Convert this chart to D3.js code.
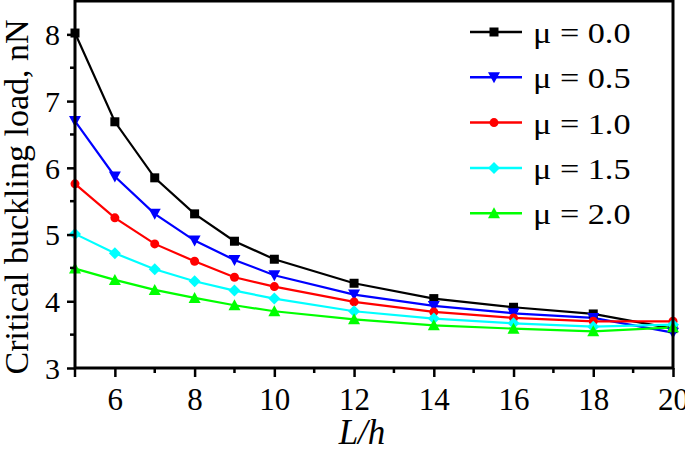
<!DOCTYPE html>
<html>
<head>
<meta charset="utf-8">
<script src="https://cdn.jsdelivr.net/npm/d3@7"></script>
<style>
    body { margin: 0; background: #fff; }
</style>
</head>
<body>
<div id="graph"></div>
<script>
// L/h values
var ratios = [5, 6, 7, 8, 9, 10, 12, 14, 16, 18, 20];
var xTicks = [6, 8, 10, 12, 14, 16, 18, 20];
var yTicks = [3, 4, 5, 6, 7, 8];
var seriesNames = ['μ = 0.0', 'μ = 0.5', 'μ = 1.0', 'μ = 1.5', 'μ = 2.0'];
var mu00 = [8.02, 6.69, 5.85, 5.31, 4.90, 4.63, 4.27, 4.04, 3.91, 3.81, 3.59];
var mu05 = [6.70, 5.87, 5.31, 4.91, 4.62, 4.39, 4.10, 3.93, 3.82, 3.75, 3.53];
var mu10 = [5.76, 5.25, 4.86, 4.60, 4.36, 4.22, 3.99, 3.84, 3.75, 3.70, 3.70];
var mu15 = [5.01, 4.72, 4.48, 4.30, 4.16, 4.04, 3.85, 3.74, 3.67, 3.62, 3.65];
var mu20 = [4.49, 4.32, 4.17, 4.05, 3.94, 3.85, 3.73, 3.64, 3.59, 3.55, 3.61];

var colors = ['#000000', '#0000ff', '#ff0000', '#00ffff', '#00ff00'];
var symbols = ['square', 'down', 'circle', 'diamond', 'up'];

var serif = "'Liberation Serif', 'Times New Roman', 'DejaVu Serif', serif";
var width = 685;
var height = 450;
var plotLeft = 75, plotRight = 673, plotTop = 1, plotBottom = 368;

var svg = d3.select('#graph').append('svg')
    .attr('width', width)
    .attr('height', height);

var xScale = d3.scaleLinear().domain([5, 20]).range([plotLeft, plotRight]);
var yScale = d3.scaleLinear().domain([3, 8.5]).range([plotBottom, plotTop]);

var allSeries = [mu00, mu05, mu10, mu15, mu20].map(function(vals, i) {
    return {
        name: seriesNames[i],
        color: colors[i],
        symbol: symbols[i],
        points: vals.map(function(v, j) { return { x: ratios[j], y: v }; })
    };
});

function drawMarker(g, type, color, cx, cy) {
    if (type == 'square') {
        g.append('rect').attr('x', cx - 4.5).attr('y', cy - 4.5)
            .attr('width', 9).attr('height', 9).attr('fill', color);
    } else if (type == 'circle') {
        g.append('circle').attr('cx', cx).attr('cy', cy).attr('r', 4.5).attr('fill', color);
    } else if (type == 'down') {
        g.append('path').attr('d', 'M' + (cx - 6) + ',' + (cy - 5) + 'L' + (cx + 6) + ',' + (cy - 5) +
            'L' + cx + ',' + (cy + 6) + 'Z').attr('fill', color);
    } else if (type == 'up') {
        g.append('path').attr('d', 'M' + (cx - 6) + ',' + (cy + 5) + 'L' + (cx + 6) + ',' + (cy + 5) +
            'L' + cx + ',' + (cy - 6) + 'Z').attr('fill', color);
    } else if (type == 'diamond') {
        g.append('path').attr('d', 'M' + cx + ',' + (cy - 6) + 'L' + (cx + 6) + ',' + cy +
            'L' + cx + ',' + (cy + 6) + 'L' + (cx - 6) + ',' + cy + 'Z').attr('fill', color);
    }
}

// series lines + markers
var line = d3.line()
    .x(function(d) { return xScale(d.x); })
    .y(function(d) { return yScale(d.y); });

var plot = svg.append('g');
allSeries.forEach(function(s) {
    plot.append('path')
        .attr('d', line(s.points))
        .attr('fill', 'none')
        .attr('stroke', s.color)
        .attr('stroke-width', 2.2);
});
allSeries.forEach(function(s) {
    var mg = plot.append('g');
    s.points.forEach(function(p) {
        drawMarker(mg, s.symbol, s.color, xScale(p.x), yScale(p.y));
    });
});

// axes
var xAxis = d3.axisBottom(xScale).tickValues(xTicks).tickSize(9).tickPadding(11)
    .tickFormat(d3.format('d'));
var yAxis = d3.axisLeft(yScale).tickValues(yTicks).tickSize(8).tickPadding(7)
    .tickFormat(d3.format('d'));

var gx = svg.append('g').attr('transform', 'translate(0,' + plotBottom + ')').call(xAxis);
var gy = svg.append('g').attr('transform', 'translate(' + plotLeft + ',0)').call(yAxis);
[gx, gy].forEach(function(g) {
    g.select('.domain').remove();
    g.attr('font-family', null);
    g.selectAll('.tick line').attr('stroke', '#000').attr('stroke-width', 2.5);
    g.selectAll('.tick text').style('font-family', serif).attr('fill', '#000');
});
gx.selectAll('.tick text').style('font-size', '31px');
gy.selectAll('.tick text').style('font-size', '30px').attr('dy', '0.34em');

// minor ticks
var xMinor = d3.range(5, 20.01, 1).filter(function(v) { return xTicks.indexOf(v) < 0; });
var yMinor = d3.range(3.5, 8.5, 1);
svg.append('g').selectAll('line').data(xMinor).enter().append('line')
    .attr('x1', function(d) { return xScale(d); }).attr('x2', function(d) { return xScale(d); })
    .attr('y1', plotBottom).attr('y2', function(d) { return d == 5 ? plotBottom + 9 : plotBottom + 5; })
    .attr('stroke', '#000').attr('stroke-width', 2.5);
svg.append('g').selectAll('line').data(yMinor).enter().append('line')
    .attr('y1', function(d) { return yScale(d); }).attr('y2', function(d) { return yScale(d); })
    .attr('x1', plotLeft).attr('x2', plotLeft - 5)
    .attr('stroke', '#000').attr('stroke-width', 2.5);

// frame
svg.append('rect')
    .attr('x', plotLeft).attr('y', plotTop)
    .attr('width', plotRight - plotLeft).attr('height', plotBottom - plotTop)
    .attr('fill', 'none').attr('stroke', '#000').attr('stroke-width', 3);

// axis titles
svg.append('text')
    .attr('transform', 'translate(28,' + 197 + ') rotate(-90)')
    .attr('text-anchor', 'middle')
    .style('font-family', serif)
    .style('font-size', '34px')
    .text('Critical buckling load, nN');
svg.append('text')
    .attr('x', 362).attr('y', 444)
    .attr('text-anchor', 'middle')
    .style('font-family', serif)
    .style('font-size', '35px')
    .style('font-style', 'italic')
    .text('L/h');

// legend
var legend = svg.append('g');
allSeries.forEach(function(s, i) {
    var cy = 32 + i * 45.3;
    legend.append('line')
        .attr('x1', 470).attr('x2', 522).attr('y1', cy).attr('y2', cy)
        .attr('stroke', s.color).attr('stroke-width', 2.5);
    drawMarker(legend, s.symbol, s.color, 494, cy);
    legend.append('text')
        .attr('transform', 'translate(533,' + (cy + 11) + ') scale(1.18,1)')
        .style('font-family', serif)
        .style('font-size', '29px')
        .text(s.name);
});
</script>
</body>
</html>
